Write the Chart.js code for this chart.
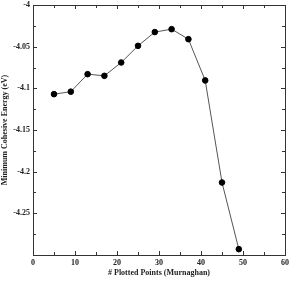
<!DOCTYPE html>
<html lang="en">
<head>
    <meta charset="UTF-8">
    <title>Cohesive energy</title>
    <style>
      body { margin: 0; background: #fff; }
      #wrap { width: 300px; height: 287px; }
    </style>
</head>
<body>
    <div id="wrap">
        <canvas id="myChart"></canvas>
    </div>

    <script src="https://cdn.jsdelivr.net/npm/chart.js"></script>

    <script>
      // values
      const points = [5, 9, 13, 17, 21, 25, 29, 33, 37, 41, 45, 49];
      const energy = [-4.107, -4.104, -4.083, -4.085, -4.069, -4.049, -4.0325, -4.029, -4.041, -4.0905, -4.213, -4.293];
      const xTicks = [0, 10, 20, 30, 40, 50, 60];
      const yTicks = [-4, -4.05, -4.1, -4.15, -4.2, -4.25, -4.3];

      const font = { family: 'Liberation Serif', weight: 'bold', size: 8 };

      // inward ticks on all four sides + box
      const frame = {
        id: 'frame',
        afterDraw(chart) {
          const c = chart.ctx, a = chart.chartArea;
          const x = chart.scales.x, y = chart.scales.y;
          c.save();
          c.strokeStyle = '#333';
          c.lineWidth = 1;
          c.strokeRect(a.left + 0.5, a.top + 0.5, a.right - a.left, a.bottom - a.top);
          c.beginPath();
          for (let v = 0; v <= 60; v += 5) {
            const px = Math.round(x.getPixelForValue(v)) + 0.5;
            const len = v % 10 === 0 ? 4 : 3;
            c.moveTo(px, a.bottom); c.lineTo(px, a.bottom - len);
            c.moveTo(px, a.top); c.lineTo(px, a.top + len);
          }
          for (let i = 0; i <= 12; i++) {
            const v = -4 - i * 0.025;
            const py = Math.round(y.getPixelForValue(v)) + 0.5;
            const len = i % 2 === 0 ? 4 : 3;
            c.moveTo(a.left, py); c.lineTo(a.left + len, py);
            c.moveTo(a.right, py); c.lineTo(a.right - len, py);
          }
          c.stroke();
          c.restore();
        }
      };

      new Chart(document.getElementById('myChart'), {
        type: 'line',
        data: {
          datasets: [{
            data: points.map((p, i) => ({ x: p, y: energy[i] })),
            borderColor: '#555',
            borderWidth: 1,
            pointBackgroundColor: '#000',
            pointBorderColor: '#000',
            pointRadius: 2.8,
            tension: 0
          }]
        },
        plugins: [frame],
        options: {
          responsive: true,
          maintainAspectRatio: false,
          animation: false,
          layout: { padding: { top: 3, right: 15, left: 0, bottom: 0 } },
          plugins: { legend: { display: false }, tooltip: { enabled: false } },
          scales: {
            x: {
              type: 'linear',
              min: 0, max: 60,
              afterBuildTicks: s => { s.ticks = xTicks.map(v => ({ value: v })); },
              afterFit: s => { s.height = 32; s.paddingLeft = 0; s.paddingRight = 0; },
              grid: { display: false, drawTicks: false },
              border: { display: false },
              ticks: { color: '#222', font: font, padding: 3, maxRotation: 0 },
              title: { display: true, text: '# Plotted Points (Murnaghan)', color: '#222', font: font, padding: { top: 2, bottom: 9 } }
            },
            y: {
              min: -4.3, max: -4,
              afterBuildTicks: s => { s.ticks = yTicks.map(v => ({ value: v })); },
              afterFit: s => { s.width = 33; s.paddingTop = 0; s.paddingBottom = 0; },
              grid: { display: false, drawTicks: false },
              border: { display: false },
              ticks: {
                color: '#222', font: font, padding: 3,
                callback: v => (v <= -4.3 ? '' : String(+v.toFixed(2)))
              },
              title: { display: true, text: 'Minimum Cohesive Energy (eV)', color: '#222', font: font, padding: { top: 0, bottom: 0 } }
            }
          }
        }
      });
    </script>
</body>
</html>
